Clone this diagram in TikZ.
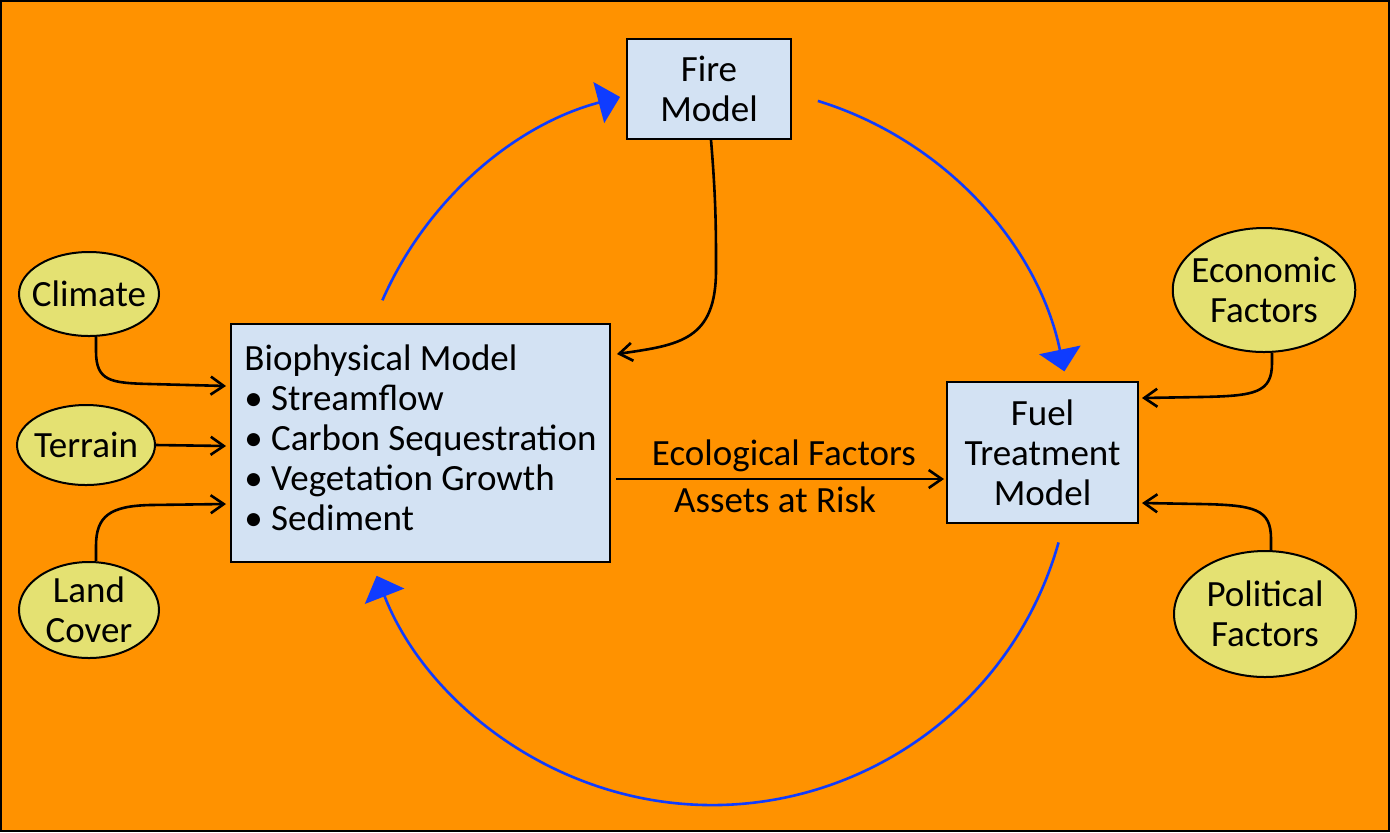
\documentclass[tikz,border=0pt]{standalone}
\usepackage{fontspec}
\setmainfont{Carlito}
\usetikzlibrary{arrows.meta,shapes.geometric}
\definecolor{bg}{RGB}{255,146,0}
\definecolor{boxfill}{RGB}{211,226,243}
\definecolor{ellfill}{RGB}{228,225,114}
\definecolor{arcblue}{RGB}{15,60,255}
\begin{document}
\begin{tikzpicture}[x=0.5pt,y=-0.5pt,
  txt/.style={font=\fontsize{18.5}{20}\selectfont},
  box/.style={txt, draw=black, line width=1pt, fill=boxfill, inner sep=0pt, align=center},
  ell/.style={txt, ellipse, draw=black, line width=1pt, fill=ellfill, inner ysep=0pt, inner xsep=-4pt, align=center},
  conn/.style={black, line width=1.3pt, -{Straight Barb[length=6.5pt,width=9pt]}},
  cyc/.style={arcblue, line width=1.3pt, -{Triangle[length=11pt,width=21pt]}}]
\useasboundingbox (0,0) rectangle (1390,832);
\draw[fill=bg, line width=1.2pt] (1.2,1.2) rectangle (1388.8,830.8);

% boxes
\node[box, minimum width=82pt, minimum height=50pt] (fire) at (709,89) {Fire\\Model};
\node[box, minimum width=189.5pt, minimum height=119pt, align=left] (bio) at (420.5,443)
  {Biophysical Model\\• Streamflow\\• Carbon Sequestration\\• Vegetation Growth\\• Sediment\\[-15pt]};
\node[box, minimum width=95.5pt, minimum height=70.5pt] (fuel) at (1042.5,452.5) {Fuel\\Treatment\\Model};

% ellipses
\node[ell, minimum width=70pt, minimum height=42pt] (clim) at (89,294) {Climate};
\node[ell, inner xsep=-3pt, minimum width=69pt, minimum height=40pt] (terr) at (86,445) {Terrain};
\node[ell, minimum width=70pt, minimum height=48pt] (land) at (89,610) {Land\\Cover};
\node[ell, minimum width=91pt, minimum height=62pt] (econ) at (1264,290) {Economic\\Factors};
\node[ell, minimum width=91pt, minimum height=63pt] (poli) at (1265,614) {Political\\Factors};

% target coordinates
\coordinate (b1) at (226,386);
\coordinate (b2) at (226,446);
\coordinate (b3) at (226,504);
\coordinate (b4) at (617,354);
\coordinate (f1) at (1142,398);
\coordinate (f2) at (1142,503);

% black connectors
\draw[conn] ([xshift=3.5pt]clim.south) -- ++(0,14) .. controls +(0,30) and (110,383) .. (150,384) -- (b1);
\draw[conn] (terr.east) -- (b2);
\draw[conn] ([xshift=3.5pt]land.north) -- ++(0,-15) .. controls +(0,-30) and (110,506) .. (150,505) -- (b3);
\draw[conn] ([xshift=1pt]fire.south) .. controls (716,200) and (716,230) .. (716,270)
  .. controls (716,340) and (680,345) .. (b4);
\draw[conn] ([xshift=4pt]econ.south) -- ++(0,10) .. controls +(0,30) and (1255,396) .. (1200,397) -- (f1);
\draw[conn] ([xshift=3pt]poli.north) -- ++(0,-11) .. controls +(0,-30) and (1255,505) .. (1200,504) -- (f2);
\draw[conn] ([xshift=2.5pt]bio.east |- 0,479) -- ([xshift=-1pt]fuel.west |- 0,479)
  node[txt, pos=.512, anchor=base, yshift=7pt] {Ecological Factors}
  node[txt, pos=.485, anchor=base, yshift=-16.5pt] {Assets at Risk};

% blue cycle arcs
\coordinate (ctr) at (712,445);
\draw[cyc] (ctr) ++(-156.3:360) arc[start angle=-156.3, end angle=-104.8, radius=360];
\draw[cyc] (ctr) ++(-72.9:360) arc[start angle=-72.9, end angle=-11.8, radius=360];
\draw[cyc] (ctr) ++(15.7:360) arc[start angle=15.7, end angle=158.7, radius=360];
\end{tikzpicture}
\end{document}
